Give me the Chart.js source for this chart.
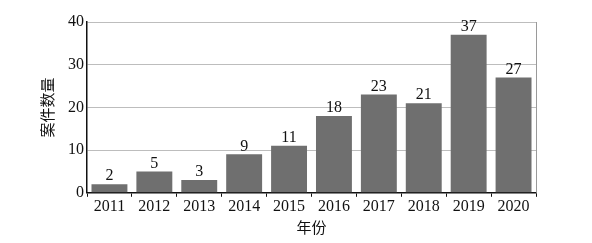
<!DOCTYPE html>
<html>
<head>
<meta charset="utf-8">
<script src="https://cdn.jsdelivr.net/npm/chart.js@4/dist/chart.umd.min.js"></script>
<style>
  html, body { margin: 0; padding: 0; background: #fff; overflow: hidden; }
  canvas { display: block; }
</style>
</head>
<body>
<canvas id="caseChart" width="592" height="243"></canvas>
<script>
var years = ["2011", "2012", "2013", "2014", "2015", "2016", "2017", "2018", "2019", "2020"];
var caseCounts = [2, 5, 3, 9, 11, 18, 23, 21, 37, 27];
var yTicks = [0, 10, 20, 30, 40];

var serif = "'Liberation Serif', 'Times New Roman', serif";

// value labels above bars + right frame line
var barLabels = {
  id: "barLabels",
  afterDatasetsDraw: function(chart) {
    var ctx = chart.ctx;
    var area = chart.chartArea;
    ctx.save();
    ctx.strokeStyle = "#9a9a9a";
    ctx.lineWidth = 1;
    ctx.beginPath();
    ctx.moveTo(area.right + 0.5, area.top);
    ctx.lineTo(area.right + 0.5, area.bottom);
    ctx.stroke();
    ctx.fillStyle = "#111";
    ctx.font = "16px " + serif;
    ctx.textAlign = "center";
    ctx.textBaseline = "bottom";
    chart.getDatasetMeta(0).data.forEach(function(bar, i) {
      ctx.fillText(caseCounts[i], bar.x, bar.y);
    });
    ctx.restore();
  }
};

var ctx = document.getElementById("caseChart").getContext("2d");
new Chart(ctx, {
  type: "bar",
  data: {
    labels: years,
    datasets: [{
      data: caseCounts,
      backgroundColor: "#6f6f6f",
      borderWidth: 0,
      barPercentage: 0.8,
      categoryPercentage: 1
    }]
  },
  options: {
    responsive: false,
    animation: false,
    devicePixelRatio: 1,
    layout: { padding: { left: 38, right: 56, top: 22, bottom: 7 } },
    plugins: {
      legend: { display: false },
      tooltip: { enabled: false }
    },
    scales: {
      x: {
        offset: true,
        grid: {
          offset: true,
          drawOnChartArea: false,
          drawTicks: true,
          tickLength: 4,
          color: "#111"
        },
        border: { color: "#111", width: 1.5 },
        ticks: {
          color: "#111",
          font: { family: serif, size: 16 },
          padding: 0,
          maxRotation: 0,
          autoSkip: false
        },
        title: {
          display: true,
          text: "年份",
          color: "#111",
          font: { family: "'Noto Sans CJK SC', sans-serif", size: 15 },
          padding: { top: 2, bottom: 0 }
        }
      },
      y: {
        min: 0,
        max: 40,
        afterBuildTicks: function(axis) {
          axis.ticks = yTicks.map(function(v) { return { value: v }; });
        },
        grid: {
          color: "#bdbdbd",
          drawTicks: false
        },
        border: { color: "#111", width: 1.5 },
        ticks: {
          color: "#111",
          font: { family: serif, size: 16 },
          padding: 3
        },
        title: {
          display: true,
          text: "案件数量",
          color: "#111",
          font: { family: "'Noto Sans CJK SC', sans-serif", size: 15 },
          padding: { top: 0, bottom: 9 }
        }
      }
    }
  },
  plugins: [barLabels]
});
</script>
</body>
</html>
